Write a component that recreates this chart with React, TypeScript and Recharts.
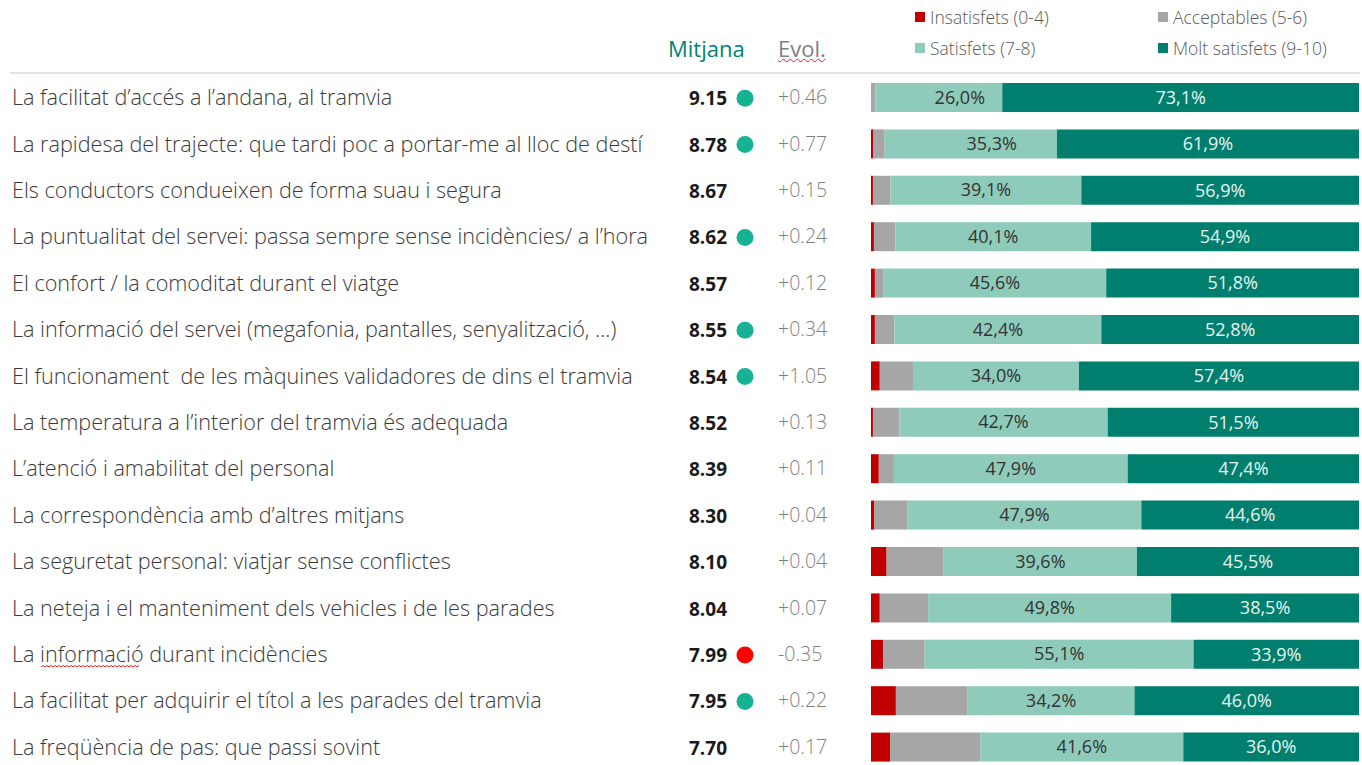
import React from "react";
import { BarChart, Bar, XAxis, YAxis, LabelList, Legend } from "recharts";

const FONT = '"Segoe UI", "Open Sans", sans-serif';

const labels = [
  "La facilitat d\u2019accés a l\u2019andana, al tramvia",
  "La rapidesa del trajecte: que tardi poc a portar-me al lloc de destí",
  "Els conductors condueixen de forma suau i segura",
  "La puntualitat del servei: passa sempre sense incidències/ a l\u2019hora",
  "El confort / la comoditat durant el viatge",
  "La informació del servei (megafonia, pantalles, senyalització, ...)",
  "El funcionament  de les màquines validadores de dins el tramvia",
  "La temperatura a l\u2019interior del tramvia és adequada",
  "L\u2019atenció i amabilitat del personal",
  "La correspondència amb d\u2019altres mitjans",
  "La seguretat personal: viatjar sense conflictes",
  "La neteja i el manteniment dels vehicles i de les parades",
  "La informació durant incidències",
  "La facilitat per adquirir el títol a les parades del tramvia",
  "La freqüència de pas: que passi sovint",
];

const mitjana = [9.15, 8.78, 8.67, 8.62, 8.57, 8.55, 8.54, 8.52, 8.39, 8.3, 8.1, 8.04, 7.99, 7.95, 7.7];
const evol = [0.46, 0.77, 0.15, 0.24, 0.12, 0.34, 1.05, 0.13, 0.11, 0.04, 0.04, 0.07, -0.35, 0.22, 0.17];
// "up" = significant rise, "down" = significant drop, null = no marker
const marker = ["up", "up", null, "up", null, "up", "up", null, null, null, null, null, "down", "up", null];

const insatisfets = [0, 0.5, 0.4, 0.6, 0.8, 0.8, 1.8, 0.4, 1.6, 0.7, 3.2, 1.8, 2.5, 5.1, 3.9];
const acceptables = [0.9, 2.3, 3.6, 4.4, 1.8, 4.0, 6.8, 5.4, 3.1, 6.8, 11.7, 9.9, 8.5, 14.7, 18.5];
const satisfets = [26.0, 35.3, 39.1, 40.1, 45.6, 42.4, 34.0, 42.7, 47.9, 47.9, 39.6, 49.8, 55.1, 34.2, 41.6];
const moltSatisfets = [73.1, 61.9, 56.9, 54.9, 51.8, 52.8, 57.4, 51.5, 47.4, 44.6, 45.5, 38.5, 33.9, 46.0, 36.0];

const COLORS = {
  ins: "#C00000",
  acc: "#A6A6A6",
  sat: "#8FCBBA",
  molt: "#007F6F",
};

const data = labels.map((label, i) => ({
  label,
  ins: insatisfets[i],
  acc: acceptables[i],
  sat: satisfets[i],
  molt: moltSatisfets[i],
}));

const pct = (v: number) => v.toFixed(1).replace(".", ",") + "%";
const fmtEvol = (v: number) => (v >= 0 ? "+" : "-") + Math.abs(v).toFixed(2);

// the first two "satisfets" labels sit a bit right of centre in the original
const satLabelShift: Record<number, number> = { 0: 21, 1: 21 };

function SatLabel(props: any) {
  const { x, y, width, height, value, index } = props;
  return (
    <text
      x={x + width / 2 + (satLabelShift[index] || 0)}
      y={y + height / 2}
      dy={6}
      textAnchor="middle"
      fill="#333"
      fontSize={18}
      fontFamily={FONT}
    >
      {pct(Number(value))}
    </text>
  );
}

// red spell-check squiggle, like the one in the source screenshot
function squiggle(x0: number, x1: number, y: number) {
  let d = `M${x0},${y}`;
  let up = true;
  for (let x = x0 + 2; x <= x1; x += 2) {
    d += ` L${x},${up ? y - 1.5 : y}`;
    up = !up;
  }
  return d;
}

function RowTick(props: any) {
  const { y, payload } = props;
  const i = payload.index;
  const m = marker[i];
  return (
    <g fontFamily={FONT}>
      <text x={12} y={y} dy={8} fontSize={21.6} fontWeight={300} fill="#3a3a3a" style={{ whiteSpace: "pre" }}>
        {labels[i]}
      </text>
      {i === 12 && <path d={squiggle(41, 139, y + 13)} stroke="#e02020" strokeWidth={1} fill="none" />}
      <text x={727} y={y} dy={8} fontSize={19} fontWeight="bold" fill="#1a1a1a" textAnchor="end">
        {mitjana[i].toFixed(2)}
      </text>
      {m && <circle cx={745} cy={y + 1} r={8.5} fill={m === "up" ? "#17B294" : "#FF0000"} />}
      <text x={778} y={y} dy={7} fontSize={19.5} fontWeight={300} fill="#7f7f7f">
        {fmtEvol(evol[i])}
      </text>
    </g>
  );
}

function Header() {
  const item = (color: string, text: string, left: number, top: number) => (
    <div style={{ position: "absolute", left, top, display: "flex", alignItems: "center", whiteSpace: "nowrap" }}>
      <span style={{ width: 10, height: 10, background: color, marginRight: 5, display: "inline-block" }} />
      <span style={{ fontSize: 17.5, fontWeight: 300, color: "#595959" }}>{text}</span>
    </div>
  );
  return (
    <div style={{ position: "relative", width: 1362, height: 74, fontFamily: FONT }}>
      {item(COLORS.ins, "Insatisfets (0-4)", 915, 5)}
      {item(COLORS.acc, "Acceptables (5-6)", 1158, 5)}
      {item(COLORS.sat, "Satisfets (7-8)", 915, 36)}
      {item(COLORS.molt, "Molt satisfets (9-10)", 1158, 36)}
      <div style={{ position: "absolute", left: 668, top: 33, fontSize: 22, color: "#008272" }}>Mitjana</div>
      <div
        style={{
          position: "absolute",
          left: 778,
          top: 33,
          fontSize: 22,
          color: "#7f7f7f",
          textDecoration: "underline wavy #e02020",
          textDecorationThickness: 1,
        }}
      >
        Evol.
      </div>
      <div style={{ position: "absolute", left: 10, right: 2, top: 72, borderTop: "2px solid #e3e3e3" }} />
    </div>
  );
}

export default function App() {
  return (
    <div style={{ position: "absolute", left: 0, top: 0, width: 1362, height: 765, overflow: "hidden", background: "#fff" }}>
      <BarChart
        width={1362}
        height={770}
        data={data}
        layout="vertical"
        margin={{ top: 74, right: 3, bottom: 0, left: 0 }}
      >
        <XAxis type="number" domain={[0, 100]} hide />
        <YAxis
          type="category"
          dataKey="label"
          width={871}
          axisLine={false}
          tickLine={false}
          interval={0}
          tick={<RowTick />}
        />
        <Legend
          layout="horizontal"
          verticalAlign="middle"
          align="center"
          wrapperStyle={{ position: "absolute", top: 0, left: 0, width: 1362, height: 74 }}
          content={() => <Header />}
        />
        <Bar dataKey="ins" stackId="a" fill={COLORS.ins} barSize={29} isAnimationActive={false} />
        <Bar dataKey="acc" stackId="a" fill={COLORS.acc} barSize={29} isAnimationActive={false} />
        <Bar dataKey="sat" stackId="a" fill={COLORS.sat} barSize={29} isAnimationActive={false}>
          <LabelList dataKey="sat" content={<SatLabel />} />
        </Bar>
        <Bar dataKey="molt" stackId="a" fill={COLORS.molt} barSize={29} isAnimationActive={false}>
          <LabelList dataKey="molt" position="center" formatter={(v: any) => pct(Number(v))} fill="#e8f4f1" fontSize={18} fontFamily={FONT} />
        </Bar>
      </BarChart>
    </div>
  );
}
